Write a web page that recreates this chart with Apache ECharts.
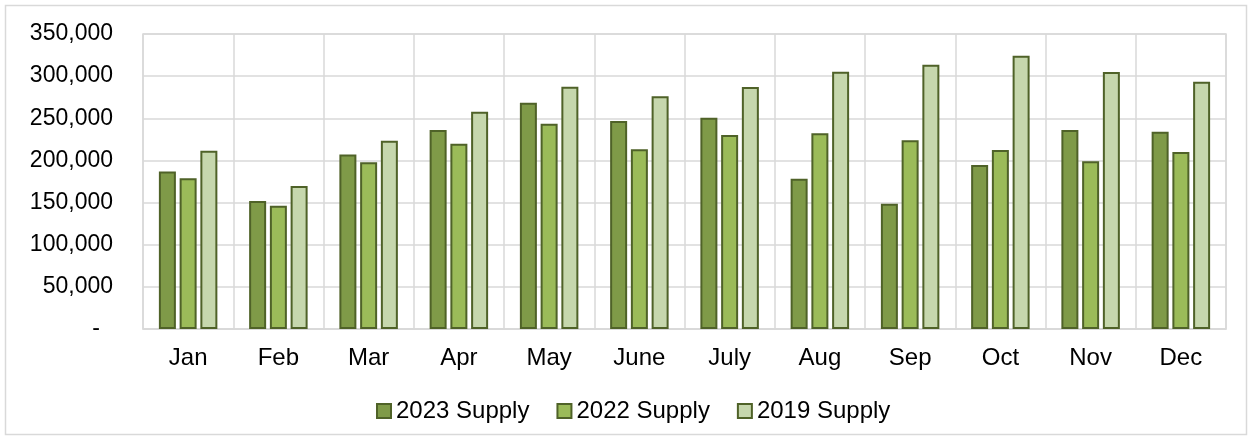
<!DOCTYPE html>
<html>
<head>
<meta charset="utf-8">
<script src="https://cdn.jsdelivr.net/npm/echarts@6/dist/echarts.min.js"></script>
<style>
html,body{margin:0;padding:0;background:#fff;}
#chart{width:1253px;height:441px;}
</style>
</head>
<body>
<div id="chart"></div>
<script>
var categories = ['Jan','Feb','Mar','Apr','May','June','July','Aug','Sep','Oct','Nov','Dec'];
var supply2023 = [187000,152000,207000,236000,268500,246800,250700,178300,148700,194600,236100,234100];
var supply2022 = [178800,146300,197800,219900,243600,213200,230200,232200,223800,212400,198900,210000];
var supply2019 = [211600,169700,223400,257800,287500,276100,287100,305300,313600,324300,304900,293400];
var seriesNames = ['2023 Supply','2022 Supply','2019 Supply'];
var colors = ['#7F9A48','#9BBB59','#C6D7AD'];

var font = 'Liberation Sans, Arial, sans-serif';
var chart = echarts.init(document.getElementById('chart'), null, {renderer:'canvas'});
function mk(name, data, color){
  return {
    name: name, type: 'bar', data: data, barWidth: 17, barGap: '22%',
    itemStyle: {color: color, borderColor: '#4F6228', borderWidth: 2},
    emphasis: {disabled: true}
  };
}
chart.setOption({
  animation: false,
  graphic: [{type:'rect', shape:{x:5.5,y:5.5,width:1241,height:429}, style:{fill:'none', stroke:'#d9d9d9', lineWidth:1.5}, silent:true}],
  grid: {left:143, right:27, top:34, bottom:112, show:true, borderColor:'#d9d9d9', borderWidth:1.5},
  legend: {
    bottom: 13, left: 371, itemWidth: 14, itemHeight: 14, itemGap: 27, icon: 'rect',
    textStyle: {fontFamily: font, fontSize: 24, color: '#000'},
    data: seriesNames
  },
  xAxis: {
    type: 'category', data: categories, boundaryGap: true,
    axisLine: {show: true, lineStyle: {color:'#d9d9d9', width:1.5}},
    axisTick: {show: false},
    splitLine: {show: true, lineStyle: {color:'#d9d9d9', width:1.5}},
    axisLabel: {fontFamily: font, fontSize: 24, color:'#000', margin: 17}
  },
  yAxis: {
    type: 'value', min: 0, max: 350000, interval: 50000,
    axisLine: {show: false}, axisTick: {show: false},
    splitLine: {lineStyle: {color:'#d9d9d9', width:1.5}},
    axisLabel: {
      fontFamily: font, fontSize: 23, color:'#000', margin: 30,
      formatter: function(v){ return v === 0 ? '{z|-}' : v.toLocaleString('en-US'); },
      rich: {z: {fontFamily: font, fontSize: 23, color:'#000', padding:[0,13,0,0]}}
    }
  },
  series: [
    mk(seriesNames[0], supply2023, colors[0]),
    mk(seriesNames[1], supply2022, colors[1]),
    mk(seriesNames[2], supply2019, colors[2])
  ]
});
</script>
</body>
</html>
